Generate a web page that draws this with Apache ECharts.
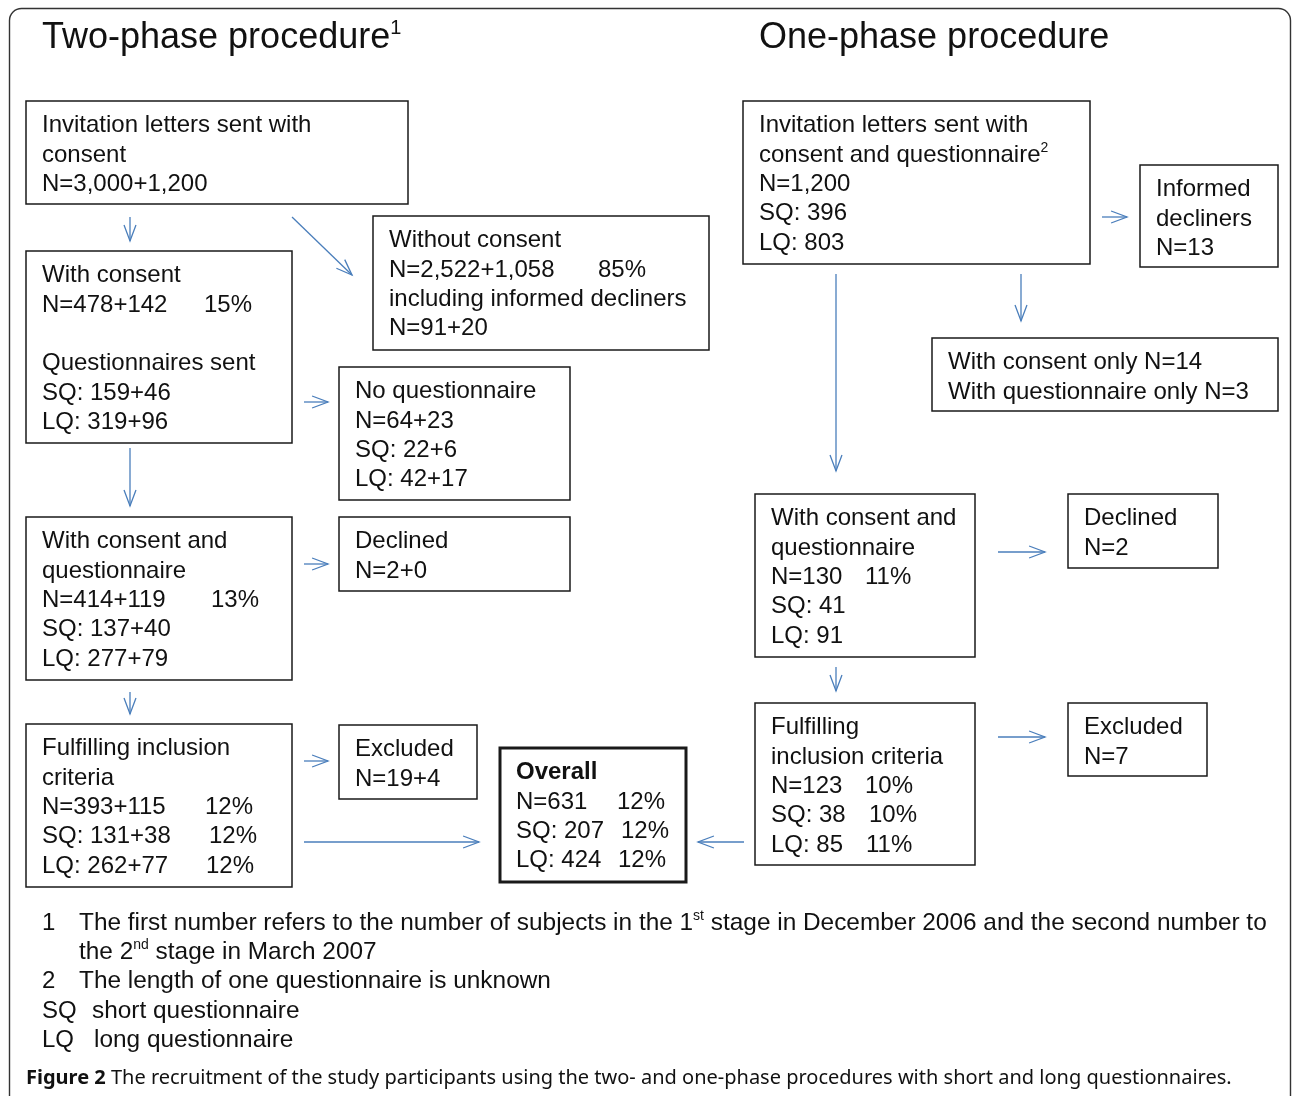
<!DOCTYPE html>
<html><head><meta charset="utf-8">
<script src="https://cdn.jsdelivr.net/npm/echarts@6/dist/echarts.min.js"></script>
<style>html,body{margin:0;padding:0;background:#fff}#c{width:1292px;height:1096px}</style>
</head><body><div id="c"></div><script>
// ---- content ----
const titles = ['Two-phase procedure{s|1}', 'One-phase procedure'];
const boxLines = [
 ['Invitation letters sent with','consent','N=3,000+1,200'],
 ['With consent','N=478+142\t15%','','Questionnaires sent','SQ: 159+46','LQ: 319+96'],
 ['Without consent','N=2,522+1,058\t85%','including informed decliners','N=91+20'],
 ['No questionnaire','N=64+23','SQ: 22+6','LQ: 42+17'],
 ['With consent and','questionnaire','N=414+119\t13%','SQ: 137+40','LQ: 277+79'],
 ['Declined','N=2+0'],
 ['Fulfilling inclusion','criteria','N=393+115\t12%','SQ: 131+38\t12%','LQ: 262+77\t12%'],
 ['Excluded','N=19+4'],
 ['{b|Overall}','N=631\t12%','SQ: 207\t12%','LQ: 424\t12%'],
 ['Invitation letters sent with','consent and questionnaire{s|2}','N=1,200','SQ: 396','LQ: 803'],
 ['Informed','decliners','N=13'],
 ['With consent only N=14','With questionnaire only N=3'],
 ['With consent and','questionnaire','N=130\t11%','SQ: 41','LQ: 91'],
 ['Declined','N=2'],
 ['Fulfilling','inclusion criteria','N=123\t10%','SQ: 38\t10%','LQ: 85\t11%'],
 ['Excluded','N=7']
];
const footnoteKeys = ['1','','2','SQ','LQ'];
const footnoteTexts = [
 'The first number refers to the number of subjects in the 1{s|st} stage in December 2006 and the second number to',
 'the 2{s|nd} stage in March 2007',
 'The length of one questionnaire is unknown',
 'short questionnaire',
 'long questionnaire'
];
const captionBold = 'Figure 2';
const captionText = ' The recruitment of the study participants using the two- and one-phase procedures with short and long questionnaires.';

// ---- layout (page coordinates: x0, y0, x1, y1, border width, tab offsets per line) ----
const boxLayout = [
 [26,101,408,204,1.5,[]],
 [26,251,292,443,1.5,[0,162]],
 [373,216,709,350,1.5,[0,209]],
 [339,367,570,500,1.5,[]],
 [26,517,292,680,1.5,[0,0,169]],
 [339,517,570,591,1.5,[]],
 [26,724,292,887,1.5,[0,0,163,167,164]],
 [339,725,477,799,1.5,[]],
 [500,748,686,882,3,[0,101,105,102]],
 [743,101,1090,264,1.5,[]],
 [1140,165,1278,267,1.5,[]],
 [932,338,1278,411,1.5,[]],
 [755,494,975,657,1.5,[0,0,94]],
 [1068,494,1218,568,1.5,[]],
 [755,703,975,865,1.5,[0,0,94,98,95]],
 [1068,703,1207,776,1.5,[]]
];
const arrowLayout = [
 [130,217,130,241],[292,217,352,275],[130,448,130,506],[304,402,328,402],
 [304,564,328,564],[130,692,130,714],[304,761,328,761],[304,842,479,842],
 [1102,217,1127,217],[836,274,836,471],[1021,274,1021,321],[998,552,1045,552],
 [836,667,836,691],[998,737,1045,737],[744,842,698,842]
];
const titlePos = [[42,38],[759,38]];
const footKeyX = 42, footTextX = [79,79,79,92,94], footY = [923,952,981,1011,1040];

const FONT = '"Liberation Sans", Arial, Helvetica, sans-serif';
const BLUE = '#4a7ebb';
const rich = {
  s:{fontSize:14, fontFamily:FONT, fill:'#111', verticalAlign:'top', lineHeight:14},
  b:{fontSize:24, fontFamily:FONT, fontWeight:'bold', fill:'#111', lineHeight:28}
};

function renderBox(params, api){
  const i = api.value(4);
  const L = boxLayout[i];
  const p0 = api.coord([api.value(0), api.value(1)]);
  const p1 = api.coord([api.value(2), api.value(3)]);
  const x0 = Math.min(p0[0],p1[0]), y0 = Math.min(p0[1],p1[1]);
  const w = Math.abs(p1[0]-p0[0]), h = Math.abs(p1[1]-p0[1]);
  const children = [{type:'rect', shape:{x:x0,y:y0,width:w,height:h},
    style:{fill:'#fff', stroke:'#1a1a1a', lineWidth:L[4]}}];
  boxLines[i].forEach((ln,k)=>{
    if(!ln) return;
    const parts = ln.split('\t');
    const ty = y0 + 24.5 + k*29.4;
    children.push({type:'text', style:{text:parts[0], x:x0+16, y:ty, fontSize:24, fontFamily:FONT,
      fill:'#111', textAlign:'left', textVerticalAlign:'middle', lineHeight:28, rich}});
    if(parts[1]) children.push({type:'text', style:{text:parts[1], x:x0+16+L[5][k], y:ty, fontSize:24,
      fontFamily:FONT, fill:'#111', textAlign:'left', textVerticalAlign:'middle', lineHeight:28, rich}});
  });
  return {type:'group', children};
}
function renderArrow(params, api){
  const a = api.coord([api.value(0), api.value(1)]);
  const b = api.coord([api.value(2), api.value(3)]);
  const ang = Math.atan2(b[1]-a[1], b[0]-a[0]);
  const len = 17, spread = 0.36;
  const h1 = [b[0]-len*Math.cos(ang-spread), b[1]-len*Math.sin(ang-spread)];
  const h2 = [b[0]-len*Math.cos(ang+spread), b[1]-len*Math.sin(ang+spread)];
  return {type:'group', children:[
    {type:'line', shape:{x1:a[0],y1:a[1],x2:b[0],y2:b[1]}, style:{stroke:BLUE, lineWidth:1.3}},
    {type:'polyline', shape:{points:[h1,b,h2]}, style:{stroke:BLUE, lineWidth:1.3, fill:null}}
  ]};
}

const graphics = [
  {type:'rect', shape:{x:9.5,y:8.5,width:1281,height:1120,r:12}, style:{fill:null, stroke:'#333', lineWidth:1.4}, z:-10}
];
titles.forEach((t,i)=>graphics.push({type:'text', x:titlePos[i][0], y:titlePos[i][1],
  style:{text:t, fontSize:36, fontFamily:FONT, fill:'#111', textVerticalAlign:'middle', lineHeight:40,
  rich:{s:{fontSize:20, fontFamily:FONT, fill:'#111', verticalAlign:'top', lineHeight:22}}}}));
footnoteTexts.forEach((t,i)=>{
  if(footnoteKeys[i]) graphics.push({type:'text', x:footKeyX, y:footY[i],
    style:{text:footnoteKeys[i], fontSize:24, fontFamily:FONT, fill:'#111', textVerticalAlign:'middle'}});
  graphics.push({type:'text', x:footTextX[i], y:footY[i],
    style:{text:t, fontSize:24.4, fontFamily:FONT, fill:'#111', textVerticalAlign:'middle', lineHeight:28,
    rich:{s:{fontSize:14, fontFamily:FONT, fill:'#111', verticalAlign:'top', lineHeight:14}}}});
});
graphics.push({type:'text', x:26, y:1078, style:{text:'{b|'+captionBold+'}{n|'+captionText+'}',
  textVerticalAlign:'middle', rich:{
    b:{fontSize:20, fontFamily:'"Noto Sans", sans-serif', fontWeight:'bold', fill:'#111'},
    n:{fontSize:20, fontFamily:'"Noto Sans", sans-serif', fill:'#111'}}}});

const chart = echarts.init(document.getElementById('c'), null, {renderer:'canvas'});
chart.setOption({
  animation:false,
  backgroundColor:'#fff',
  grid:{left:0,right:0,top:0,bottom:0},
  xAxis:{type:'value', min:0, max:1292, show:false},
  yAxis:{type:'value', min:0, max:1096, inverse:true, show:false},
  graphic:graphics,
  series:[
    {type:'custom', renderItem:renderArrow, data:arrowLayout, encode:{x:[0,2], y:[1,3]}, silent:true, z:2},
    {type:'custom', renderItem:renderBox, data:boxLayout.map((b,i)=>[b[0],b[1],b[2],b[3],i]), encode:{x:[0,2], y:[1,3]}, silent:true, z:3}
  ]
});
</script></body></html>
